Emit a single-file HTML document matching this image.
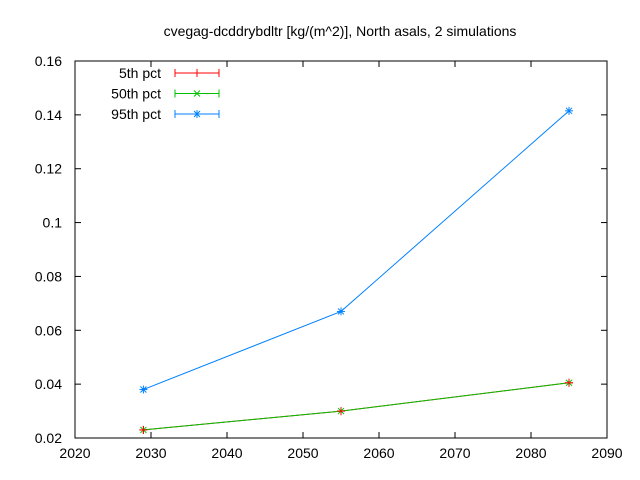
<!DOCTYPE html>
<html><head><meta charset="utf-8"><style>
body{margin:0;background:#fff;}
svg{display:block;font-family:"Liberation Sans",sans-serif;}
</style></head><body>
<svg id="chart" width="640" height="480" xmlns="http://www.w3.org/2000/svg">
<rect width="640" height="480" fill="#fff"/>
<text x="340" y="36" font-size="14" text-anchor="middle">cvegag-dcddrybdltr [kg/(m^2)], North asals, 2 simulations</text>
<g id="axes"></g>
<g id="series"></g>
<g id="legend"></g>
</svg>
<script>
const years=[2029,2055,2085];
const p5=[0.023,0.030,0.0405];
const p50=[0.023,0.030,0.0405];
const p95=[0.038,0.067,0.1415];
const xTicks=[2020,2030,2040,2050,2060,2070,2080,2090];
const yTicks=[0.02,0.04,0.06,0.08,0.1,0.12,0.14,0.16];
const yLabels=["0.02","0.04","0.06","0.08","0.1","0.12","0.14","0.16"];
const seriesNames=["5th pct","50th pct","95th pct"];

const L=75,R=607,T=61,B=438;
const NS="http://www.w3.org/2000/svg";
const xs=v=>L+(v-2020)/70*(R-L);
const ys=v=>B-(v-0.02)/0.14*(B-T);
function mk(tag,attrs,parent){const e=document.createElementNS(NS,tag);for(const k in attrs)e.setAttribute(k,attrs[k]);parent.appendChild(e);return e;}
const ax=document.getElementById('axes');
const fr=mk('rect',{x:L,y:T,width:R-L,height:B-T,fill:'none',stroke:'#000','stroke-width':1},ax);


xTicks.forEach(t=>{
  const x=xs(t);
  mk('line',{x1:x,y1:B,x2:x,y2:B-6,stroke:'#000'},ax);
  mk('line',{x1:x,y1:T,x2:x,y2:T+6,stroke:'#000'},ax);
  const tx=mk('text',{x:x,y:B+20,'font-size':14,'text-anchor':'middle'},ax);
  tx.textContent=t;
  
  
});
yTicks.forEach((t,i)=>{
  const y=ys(t);
  mk('line',{x1:L,y1:y,x2:L+6,y2:y,stroke:'#000'},ax);
  mk('line',{x1:R,y1:y,x2:R-6,y2:y,stroke:'#000'},ax);
  const tx=mk('text',{x:L-13,y:y+5,'font-size':14,'text-anchor':'end'},ax);
  tx.textContent=yLabels[i];
  
  
});
const colors=['#ff0000','#00c000','#0080ff'];
const data=[p5,p50,p95];
const sg=document.getElementById('series');
function marker(g,x,y,c,type){
  if(type!==1){mk('line',{x1:x-4,y1:y,x2:x+4,y2:y,stroke:c},g);mk('line',{x1:x,y1:y-4,x2:x,y2:y+4,stroke:c},g);}
  if(type!==0){mk('line',{x1:x-3,y1:y-3,x2:x+3,y2:y+3,stroke:c},g);mk('line',{x1:x-3,y1:y+3,x2:x+3,y2:y-3,stroke:c},g);}
}
[2,0,1].forEach(si=>{
  const g=mk('g',{},sg);
  
  
  const pts=years.map((yr,i)=>xs(yr)+','+ys(data[si][i])).join(' ');
  mk('polyline',{points:pts,fill:'none',stroke:colors[si],'stroke-width':1},g);
  years.forEach((yr,i)=>marker(g,xs(yr),ys(data[si][i]),colors[si],si));
});
const mg=mk('g',{},sg);


years.forEach((yr,i)=>marker(mg,xs(yr),ys(p5[i]),colors[0],0));
const lg=document.getElementById('legend');
seriesNames.forEach((n,i)=>{
  const y=73+i*20.5;
  const g=mk('g',{},lg);
  
  
  const t=mk('text',{x:161,y:y+5,'font-size':14,'text-anchor':'end'},g);
  t.textContent=n;
  mk('line',{x1:175,y1:y,x2:219,y2:y,stroke:colors[i]},g);
  mk('line',{x1:175,y1:y-4,x2:175,y2:y+4,stroke:colors[i]},g);
  mk('line',{x1:219,y1:y-4,x2:219,y2:y+4,stroke:colors[i]},g);
  marker(g,197,y,colors[i],i);
});
</script>
</body></html>
